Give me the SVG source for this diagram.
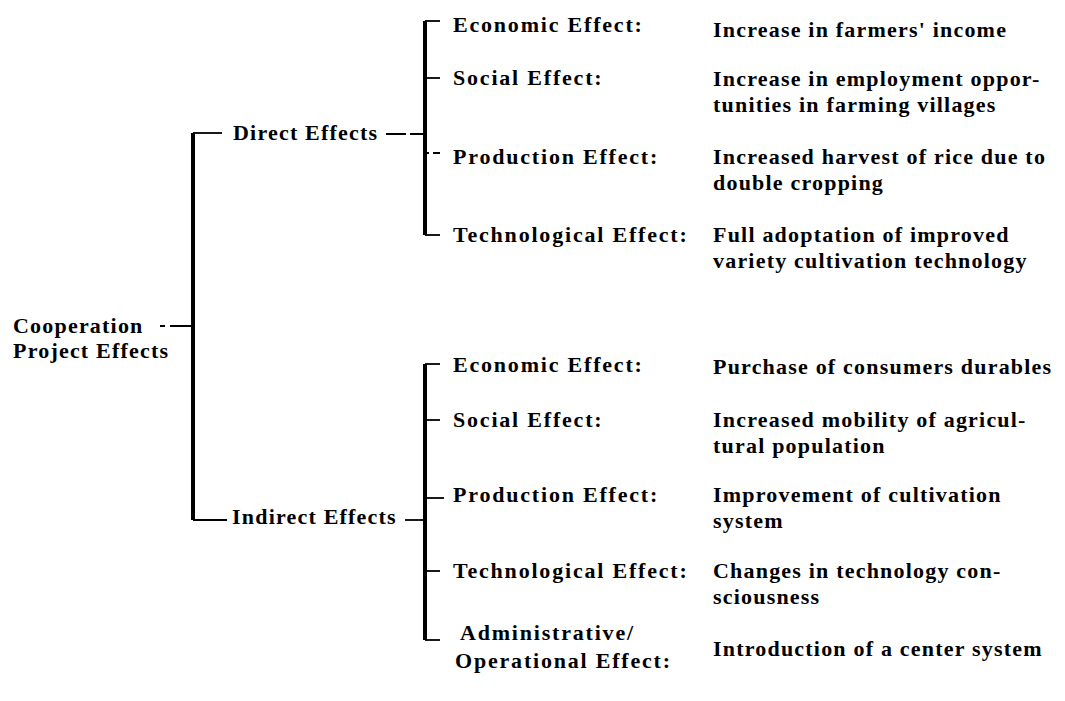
<svg xmlns="http://www.w3.org/2000/svg" width="1065" height="701" viewBox="0 0 1065 701">
<style>
text{font-family:"Liberation Serif","Times New Roman",serif;font-weight:bold;font-size:22px;letter-spacing:1.2px;fill:#000}
text.mid{letter-spacing:1.8px}
.bar{stroke:#000;stroke-width:4;fill:none}
.tick{stroke:#000;stroke-width:1.8;fill:none}
</style>
<rect width="1065" height="701" fill="#fff"/>
<g id="connectors">
<path class="bar" d="M193,133 V520"/>
<path class="tick" d="M193,133 H222"/>
<path class="tick" d="M193,520 H227"/>
<path class="tick" d="M160,326 H165 M170,326 H193"/>
<path class="bar" d="M425,21 V235"/>
<path class="tick" d="M425,21 H440"/>
<path class="tick" d="M425,78 H440"/>
<path class="tick" d="M386,134 H406 M410,134 H425"/>
<path class="tick" d="M425,153 H429 M433,153 H440"/>
<path class="tick" d="M425,235 H440"/>
<path class="bar" d="M425,364 V640"/>
<path class="tick" d="M425,364 H440"/>
<path class="tick" d="M425,420 H440"/>
<path class="tick" d="M425,498 H444"/>
<path class="tick" d="M405,520 H425"/>
<path class="tick" d="M425,571 H440"/>
<path class="tick" d="M425,640 H440"/>
</g>
<g id="root"><text x="13" y="333">Cooperation</text><text x="13" y="358">Project Effects</text></g>
<g id="direct"><text x="233" y="140">Direct Effects</text></g>
<g id="indirect"><text x="232" y="524">Indirect Effects</text></g>
<g id="d-econ"><text class="mid" x="453" y="32">Economic Effect:</text><text x="713" y="37">Increase in farmers' income</text></g>
<g id="d-social"><text class="mid" x="453" y="85">Social Effect:</text><text x="713" y="86">Increase in employment oppor-</text><text x="713" y="112">tunities in farming villages</text></g>
<g id="d-prod"><text class="mid" x="453" y="164">Production Effect:</text><text x="713" y="164">Increased harvest of rice due to</text><text x="713" y="190">double cropping</text></g>
<g id="d-tech"><text class="mid" x="453" y="242">Technological Effect:</text><text x="713" y="242">Full adoptation of improved</text><text x="713" y="268">variety cultivation technology</text></g>
<g id="i-econ"><text class="mid" x="453" y="372">Economic Effect:</text><text x="713" y="374">Purchase of consumers durables</text></g>
<g id="i-social"><text class="mid" x="453" y="427">Social Effect:</text><text x="713" y="427">Increased mobility of agricul-</text><text x="713" y="453">tural population</text></g>
<g id="i-prod"><text class="mid" x="453" y="502">Production Effect:</text><text x="713" y="502">Improvement of cultivation</text><text x="713" y="528">system</text></g>
<g id="i-tech"><text class="mid" x="453" y="578">Technological Effect:</text><text x="713" y="578">Changes in technology con-</text><text x="713" y="604">sciousness</text></g>
<g id="i-admin"><text class="mid" x="460" y="640">Administrative/</text><text class="mid" x="455" y="668">Operational Effect:</text><text x="713" y="656">Introduction of a center system</text></g>
</svg>
